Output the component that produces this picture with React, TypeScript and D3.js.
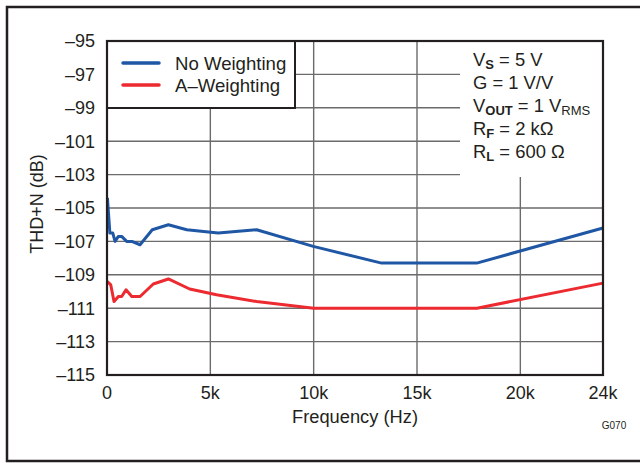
import React from "react";
import * as d3 from "d3";

const noWeightFreq = [20, 140, 280, 390, 550, 710, 950, 1200, 1600, 2190, 2970, 3860, 5380, 7240, 9980, 13290, 17890, 24000];
const noWeightDb = [-104.4, -106.5, -106.5, -107.0, -106.7, -106.7, -107.0, -107.0, -107.2, -106.3, -106.0, -106.3, -106.5, -106.3, -107.3, -108.3, -108.3, -106.2];
const aWeightFreq = [20, 180, 340, 550, 710, 920, 1200, 1600, 2240, 2970, 4000, 5300, 7240, 10000, 17900, 24000];
const aWeightDb = [-109.4, -109.6, -110.6, -110.3, -110.3, -109.9, -110.3, -110.3, -109.55, -109.25, -109.85, -110.2, -110.6, -111.0, -111.0, -109.5];
const xTicks = [0, 5000, 10000, 15000, 20000, 24000];
const xTickLabels = ["0", "5k", "10k", "15k", "20k", "24k"];
const yTicks = [-95, -97, -99, -101, -103, -105, -107, -109, -111, -113, -115];
const seriesNames = ["No Weighting", "A\u2013Weighting"];
const seriesColors = ["#1f57a5", "#ec2a30"];

const W = 640, H = 463;
const L = 107, R = 603, T = 41, B = 375;
const FONT = "'Liberation Sans', Arial, Helvetica, sans-serif";
const TXT = "#231f20";

export default function App() {
  const x = d3.scaleLinear().domain([0, 24000]).range([L, R]);
  const y = d3.scaleLinear().domain([-115, -95]).range([B, T]);
  const line = d3.line<[number, number]>().x(d => x(d[0])).y(d => y(d[1]));
  const s1 = noWeightFreq.map((f, i) => [f, noWeightDb[i]] as [number, number]);
  const s2 = aWeightFreq.map((f, i) => [f, aWeightDb[i]] as [number, number]);
  const fmt = (v: number) => (v < 0 ? "\u2013" + Math.abs(v) : String(v));
  const sub = (t: string, bold = true) => (
    <tspan fontSize={13} dy={3} fontWeight={bold ? "bold" : "normal"}>{t}</tspan>
  );
  const annoX = 473;
  return (
    <svg width={W} height={H} style={{ position: "absolute", left: 0, top: 0 }} fontFamily={FONT}>
      <rect x={0} y={0} width={W} height={H} fill="#fff" />
      <rect x={7} y={7} width={W} height={454} fill="none" stroke="#231f20" strokeWidth={2.5} />
      {/* grid */}
      {xTicks.slice(1, -1).map(v => (
        <line key={"gx" + v} x1={x(v)} x2={x(v)} y1={T} y2={B} stroke="#6b6b6b" strokeWidth={1.4} />
      ))}
      {yTicks.slice(1, -1).map(v => (
        <line key={"gy" + v} x1={L} x2={R} y1={y(v)} y2={y(v)} stroke="#6b6b6b" strokeWidth={1.4} />
      ))}
      {/* series */}
      <path d={line(s1) || ""} fill="none" stroke={seriesColors[0]} strokeWidth={3} strokeLinejoin="round" />
      <path d={line(s2) || ""} fill="none" stroke={seriesColors[1]} strokeWidth={3} strokeLinejoin="round" />
      {/* legend */}
      <rect x={L} y={T} width={188} height={67} fill="#fff" stroke="#231f20" strokeWidth={2} />
      {seriesNames.map((n, i) => (
        <g key={n}>
          <line x1={123} x2={159} y1={63 + i * 22} y2={63 + i * 22} stroke={seriesColors[i]} strokeWidth={3.5} strokeLinecap="round" />
          <text x={175} y={69.5 + i * 22} fontSize={18.6} fill={TXT}>{n}</text>
        </g>
      ))}
      {/* annotation */}
      <rect x={460} y={T} width={R - 460} height={136} fill="#fff" />
      <g fontSize={18.4} fill={TXT}>
        <text x={annoX} y={66}>V{sub("S")}<tspan dy={-3}> = 5 V</tspan></text>
        <text x={annoX} y={89}>G = 1 V/V</text>
        <text x={annoX} y={112}>V{sub("OUT")}<tspan dy={-3}> = 1 V</tspan>{sub("RMS", false)}</text>
        <text x={annoX} y={135}>R{sub("F")}<tspan dy={-3}> = 2 k&#937;</tspan></text>
        <text x={annoX} y={158}>R{sub("L")}<tspan dy={-3}> = 600 &#937;</tspan></text>
      </g>
      {/* frame */}
      <rect x={L} y={T} width={R - L} height={B - T} fill="none" stroke="#231f20" strokeWidth={2.2} />
      {/* axes labels */}
      {yTicks.map(v => (
        <text key={"yl" + v} x={95} y={y(v)} dy="0.36em" textAnchor="end" fontSize={18} fill={TXT}>{fmt(v)}</text>
      ))}
      {xTicks.map((v, i) => (
        <text key={"xl" + v} x={x(v)} y={399} textAnchor="middle" fontSize={18} fill={TXT}>{xTickLabels[i]}</text>
      ))}
      <text x={(L + R) / 2} y={423} textAnchor="middle" fontSize={18.3} fill={TXT}>Frequency (Hz)</text>
      <text transform={`translate(43, ${(T + B) / 2 - 4}) rotate(-90)`} textAnchor="middle" fontSize={18} fill={TXT}>THD+N (dB)</text>
      <text x={614} y={429} textAnchor="middle" fontSize={10} fill={TXT}>G070</text>
    </svg>
  );
}
